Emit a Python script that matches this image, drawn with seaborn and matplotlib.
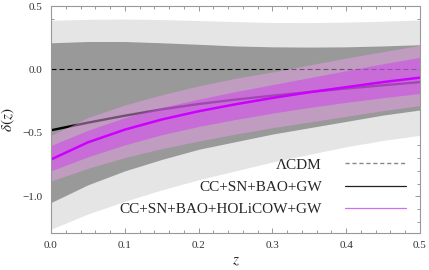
import numpy as np
import pandas as pd
import matplotlib
matplotlib.use("Agg")
import matplotlib.pyplot as plt
from matplotlib.lines import Line2D
from matplotlib.ticker import MultipleLocator
import seaborn as sns

# ---- data ----
z = [0.0, 0.05, 0.10, 0.15, 0.20, 0.25, 0.30, 0.35, 0.40, 0.45, 0.50]

# CC+SN+BAO+GW (grey bands, black line)
gw_mean = [-0.48, -0.42, -0.365, -0.315, -0.273, -0.238, -0.207, -0.178, -0.151, -0.125, -0.10]
gw_1s_up = [0.21, 0.22, 0.22, 0.21, 0.198, 0.185, 0.178, 0.176, 0.178, 0.185, 0.195]
gw_1s_lo = [-1.05, -0.91, -0.80, -0.71, -0.63, -0.57, -0.51, -0.46, -0.41, -0.36, -0.32]
gw_2s_up = [0.387, 0.395, 0.397, 0.393, 0.385, 0.377, 0.370, 0.369, 0.373, 0.380, 0.390]
gw_2s_lo = [-1.26, -1.14, -1.04, -0.95, -0.87, -0.80, -0.73, -0.67, -0.61, -0.56, -0.52]

# CC+SN+BAO+HOLiCOW+GW (purple bands, magenta line)
hc_mean = [-0.71, -0.575, -0.475, -0.395, -0.33, -0.275, -0.225, -0.18, -0.14, -0.10, -0.065]
hc_1s_up = [-0.60, -0.48, -0.38, -0.30, -0.235, -0.175, -0.12, -0.065, -0.01, 0.045, 0.095]
hc_1s_lo = [-0.80, -0.69, -0.595, -0.515, -0.45, -0.395, -0.345, -0.30, -0.26, -0.223, -0.19]
hc_2s_up = [-0.52, -0.38, -0.28, -0.20, -0.13, -0.07, -0.02, 0.035, 0.09, 0.14, 0.19]
hc_2s_lo = [-0.88, -0.78, -0.695, -0.625, -0.565, -0.51, -0.46, -0.415, -0.37, -0.325, -0.285]

labels = ["\u039bCDM", "CC+SN+BAO+GW", "CC+SN+BAO+HOLiCOW+GW"]
xticks = [0.0, 0.1, 0.2, 0.3, 0.4, 0.5]
yticks = [-1.0, -0.5, 0.0, 0.5]

df_gw = pd.DataFrame({"z": z, "delta": gw_mean})
df_hc = pd.DataFrame({"z": z, "delta": hc_mean})

# ---- style ----
sns.set_theme(style="ticks")
plt.rcParams["font.family"] = ["Liberation Serif", "DejaVu Serif"]
plt.rcParams["mathtext.fontset"] = "stix"

fig = plt.figure(figsize=(4.29, 2.70), dpi=100)
ax = fig.add_axes([51 / 429, 1 - 233 / 270, 369 / 429, 227 / 270])

ax.fill_between(z, gw_2s_lo, gw_2s_up, color="#e5e5e5", lw=0, zorder=1)
ax.fill_between(z, gw_1s_lo, gw_1s_up, color="#999999", lw=0, zorder=2)
ax.axhline(0.0, color="black", lw=0.8, ls=(0, (4.5, 2.7)), zorder=3)
sns.lineplot(data=df_gw, x="z", y="delta", ax=ax, color="black", lw=1.7, zorder=4)
ax.fill_between(z, hc_2s_lo, hc_2s_up, color="#e79fe7", alpha=0.5, lw=0, zorder=5)
ax.fill_between(z, hc_1s_lo, hc_1s_up, color="#d040ee", alpha=0.5, lw=0, zorder=6)
sns.lineplot(data=df_hc, x="z", y="delta", ax=ax, color="#cc00ff", lw=1.8, zorder=7)

ax.set_xlim(0, 0.5)
ax.set_ylim(-1.29, 0.5)
ax.set_xticks(xticks)
ax.set_yticks(yticks)
ax.set_xticklabels([f"{t:.1f}" for t in xticks])
ax.set_yticklabels([f"{t:.1f}".replace("-", "\u2212") for t in yticks])
ax.xaxis.set_minor_locator(MultipleLocator(0.02))
ax.yaxis.set_minor_locator(MultipleLocator(0.1))
ax.tick_params(which="both", direction="in", top=True, right=True, color="#888888",
               labelsize=8, labelcolor="#333333", width=0.6)
ax.tick_params(which="major", length=3.5, pad=6)
ax.tick_params(which="minor", length=2)
for s in ax.spines.values():
    s.set_color("#999999")
    s.set_linewidth(0.8)
    s.set_zorder(10)

ax.set_xlabel("$z$", fontsize=11, color="#222222", labelpad=3)
ax.set_ylabel(r"$\delta(z)$", fontsize=11, color="#222222", labelpad=4)

handles = [
    Line2D([], [], color="#888888", lw=1.0, ls=(0, (3, 2))),
    Line2D([], [], color="#222222", lw=0.9),
    Line2D([], [], color="#d070f0", lw=0.9),
]
ax.legend(handles, labels, loc="lower right", bbox_to_anchor=(0.962, 0.075),
          frameon=False, markerfirst=False, fontsize=11, handlelength=4.0,
          handletextpad=1.5, labelspacing=0.55, borderpad=0, borderaxespad=0)

fig.savefig("out.png", dpi=100)
